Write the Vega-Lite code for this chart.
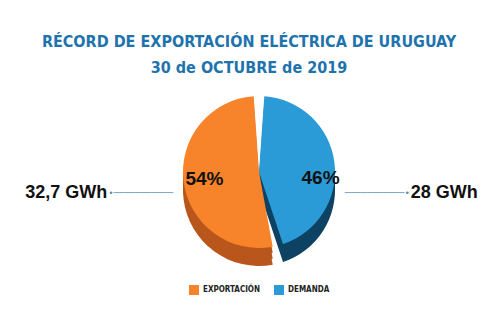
{
  "$schema": "https://vega.github.io/schema/vega-lite/v6.json",
  "width": 500,
  "height": 323,
  "autosize": {"type": "fit", "contains": "padding"},
  "padding": {"top": 34, "bottom": 28, "left": 18, "right": 0},
  "background": "white",
  "title": {
    "text": ["RÉCORD DE EXPORTACIÓN ELÉCTRICA DE URUGUAY", "30 de OCTUBRE de 2019"],
    "font": "DejaVu Sans Condensed",
    "fontSize": 16,
    "fontWeight": "bold",
    "color": "#1f73ad",
    "lineHeight": 26,
    "anchor": "middle",
    "dx": -10,
    "offset": 1
  },
  "config": {
    "view": {"stroke": null},
    "legend": {"layout": {"bottom": {"anchor": "middle"}}}
  },
  "data": {
    "values": [
      {"categoria": "DEMANDA", "participacion": 0.46, "energia": "28 GWh"},
      {"categoria": "EXPORTACIÓN", "participacion": 0.54, "energia": "32,7 GWh"}
    ]
  },
  "encoding": {
    "theta": {"field": "participacion", "type": "quantitative", "stack": true},
    "order": {"field": "categoria", "sort": "ascending"}
  },
  "resolve": {"scale": {"color": "independent"}, "legend": {"color": "independent"}},
  "layer": [
    {
      "mark": {"type": "arc", "outerRadius": 76, "padAngle": 0.14, "yOffset": 18},
      "encoding": {
        "color": {"field": "categoria", "type": "nominal", "scale": {"domain": ["EXPORTACIÓN", "DEMANDA"], "range": ["#b9561b", "#0e4263"]}, "legend": null}
      }
    },
    {
      "mark": {"type": "arc", "outerRadius": 76, "padAngle": 0.14, "yOffset": 12},
      "encoding": {
        "color": {"field": "categoria", "type": "nominal", "scale": {"domain": ["EXPORTACIÓN", "DEMANDA"], "range": ["#b9561b", "#0e4263"]}, "legend": null}
      }
    },
    {
      "mark": {"type": "arc", "outerRadius": 76, "padAngle": 0.14, "yOffset": 6},
      "encoding": {
        "color": {"field": "categoria", "type": "nominal", "scale": {"domain": ["EXPORTACIÓN", "DEMANDA"], "range": ["#b9561b", "#0e4263"]}, "legend": null}
      }
    },
    {
      "mark": {"type": "arc", "outerRadius": 76, "padAngle": 0.14},
      "encoding": {
        "color": {
          "field": "categoria",
          "type": "nominal",
          "scale": {"domain": ["EXPORTACIÓN", "DEMANDA"], "range": ["#f7832b", "#2b9bd7"]},
          "legend": {
            "title": null,
            "orient": "bottom",
            "direction": "horizontal",
            "symbolType": "square",
            "symbolSize": 100,
            "symbolStrokeWidth": 0,
            "labelFont": "DejaVu Sans Condensed",
            "labelFontWeight": "bold",
            "labelFontSize": 8,
            "labelColor": "#222",
            "columnPadding": 14
          }
        }
      }
    },
    {
      "mark": {"type": "text", "radius": 55, "font": "Liberation Sans", "fontSize": 19, "fontWeight": "bold", "color": "#111"},
      "encoding": {"text": {"condition": {"test": "datum.categoria == 'EXPORTACIÓN'", "field": "participacion", "type": "quantitative", "format": ".0%"}, "value": ""}}
    },
    {
      "mark": {"type": "text", "radius": 62, "dy": 14, "font": "Liberation Sans", "fontSize": 19, "fontWeight": "bold", "color": "#111"},
      "encoding": {"text": {"condition": {"test": "datum.categoria == 'DEMANDA'", "field": "participacion", "type": "quantitative", "format": ".0%"}, "value": ""}}
    },
    {
      "mark": {"type": "text", "radius": 150, "align": "right", "dx": -3, "dy": 2, "font": "Liberation Sans", "fontSize": 18, "fontWeight": "bold", "color": "#111"},
      "encoding": {"text": {"condition": {"test": "datum.categoria == 'EXPORTACIÓN'", "field": "energia", "type": "nominal"}, "value": ""}}
    },
    {
      "mark": {"type": "text", "radius": 150, "align": "left", "dx": 3, "dy": 40, "font": "Liberation Sans", "fontSize": 18, "fontWeight": "bold", "color": "#111"},
      "encoding": {"text": {"condition": {"test": "datum.categoria == 'DEMANDA'", "field": "energia", "type": "nominal"}, "value": ""}}
    },
    {
      "mark": {"type": "text", "radius": 150, "align": "left", "dx": -2, "dy": 2, "font": "DejaVu Sans Mono", "fontSize": 9, "color": "#5b8fb0"},
      "encoding": {"text": {"condition": {"test": "datum.categoria == 'EXPORTACIÓN'", "value": "•───────────"}, "value": ""}}
    },
    {
      "mark": {"type": "text", "radius": 150, "align": "right", "dx": 2, "dy": 40, "font": "DejaVu Sans Mono", "fontSize": 9, "color": "#5b8fb0"},
      "encoding": {"text": {"condition": {"test": "datum.categoria == 'DEMANDA'", "value": "───────────•"}, "value": ""}}
    }
  ]
}
